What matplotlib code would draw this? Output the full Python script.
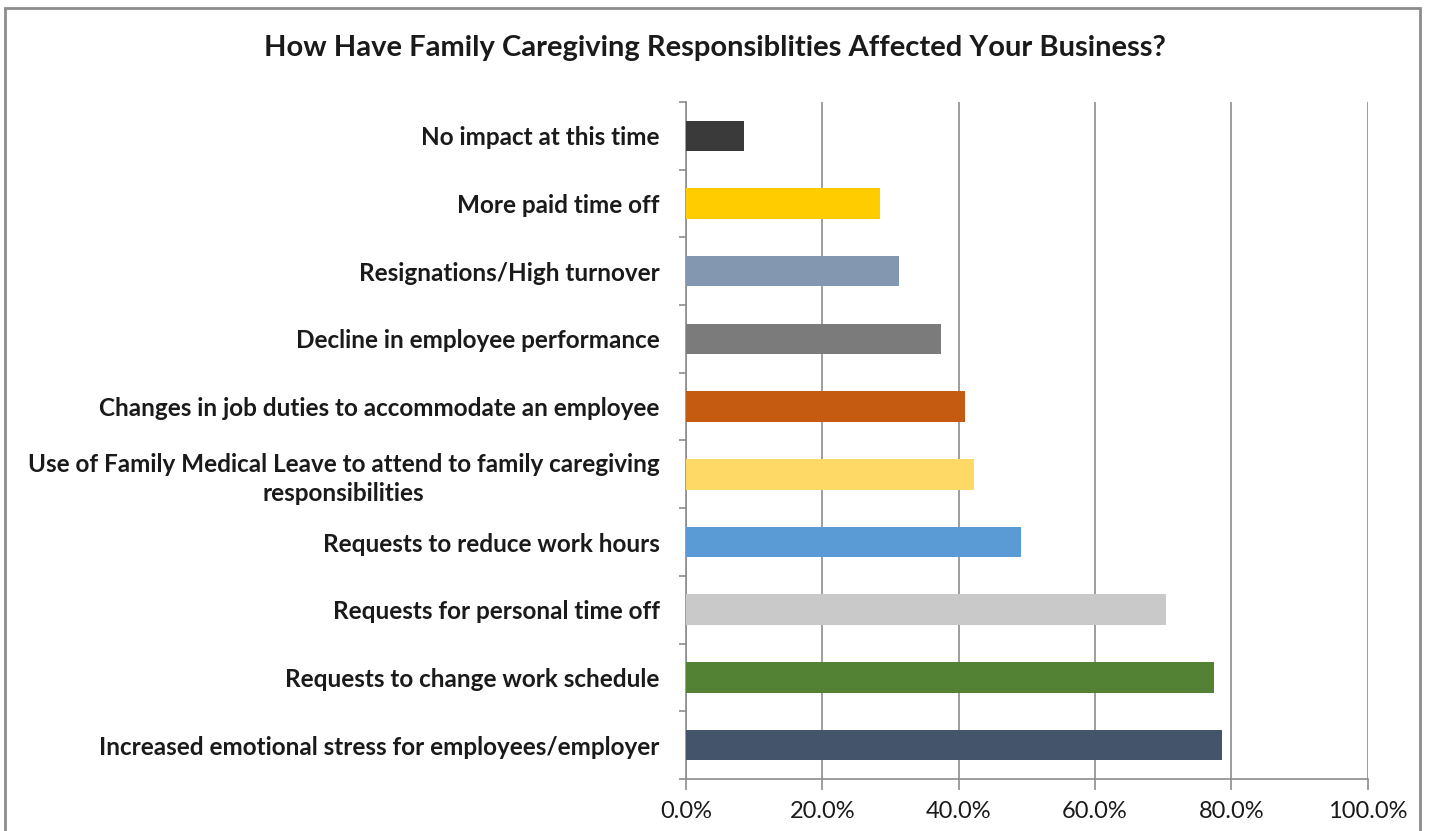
import matplotlib.pyplot as plt
from matplotlib.patches import Rectangle
from matplotlib.ticker import FuncFormatter, MultipleLocator

categories = [
    "Increased emotional stress for employees/employer",
    "Requests to change work schedule",
    "Requests for personal time off",
    "Requests to reduce work hours",
    "Use of Family Medical Leave to attend to family caregiving\nresponsibilities",
    "Changes in job duties to accommodate an employee",
    "Decline in employee performance",
    "Resignations/High turnover",
    "More paid time off",
    "No impact at this time",
]
values = [78.7, 77.4, 70.5, 49.1, 42.2, 40.9, 37.4, 31.2, 28.4, 8.5]
colors = ["#44546a", "#548235", "#c9c9c9", "#5b9bd5", "#ffd966",
          "#c55a11", "#7b7b7b", "#8497b0", "#ffcc00", "#3a3a3a"]

plt.rcParams['font.family'] = ['Lato', 'DejaVu Sans']

fig = plt.figure(figsize=(14.29, 8.31), dpi=100)
ax = fig.add_axes([0.480, 0.0626, 0.477, 0.8147])

y = range(len(categories))
ax.barh(y, values, height=0.45, color=colors, zorder=3)

ax.set_xlim(0, 100)
ax.set_ylim(-0.5, len(categories) - 0.5)
ax.xaxis.set_major_locator(MultipleLocator(20))
ax.xaxis.set_major_formatter(FuncFormatter(lambda v, p: f"{v:.1f}%"))
ax.grid(axis='x', color='#8c8c8c', linewidth=1.2, zorder=0)

ax.set_yticks(list(y))
ax.set_yticklabels(categories, ha='right', multialignment='center')
ax.set_yticks([i - 0.5 for i in range(len(categories) + 1)], minor=True)
ax.tick_params(axis='y', which='major', length=0, pad=19)
ax.tick_params(axis='y', which='minor', length=5, color='#8c8c8c', width=1.2)
ax.tick_params(axis='x', length=8, color='#8c8c8c', width=1.2, pad=8)
for lab in ax.get_yticklabels():
    lab.set_fontsize(17.5)
    lab.set_fontweight('bold')
    lab.set_color('#1a1a1a')
    lab.set_linespacing(1.3)
for lab in ax.get_xticklabels():
    lab.set_fontsize(17)
    lab.set_color('#1a1a1a')

for s in ['top', 'right']:
    ax.spines[s].set_visible(False)
for s in ['left', 'bottom']:
    ax.spines[s].set_color('#8c8c8c')
    ax.spines[s].set_linewidth(1.2)

fig.text(0.500, 0.942, "How Have Family Caregiving Responsiblities Affected Your Business?",
         ha='center', va='center', fontsize=21, fontweight='bold', color='#1a1a1a')

fig.patches.append(Rectangle((5 / 1429, -0.05), 1415 / 1429, 1.05 - 8 / 831,
                             transform=fig.transFigure, fill=False,
                             edgecolor='#8c8c8c', linewidth=2))

fig.savefig("out.png", dpi=100)
